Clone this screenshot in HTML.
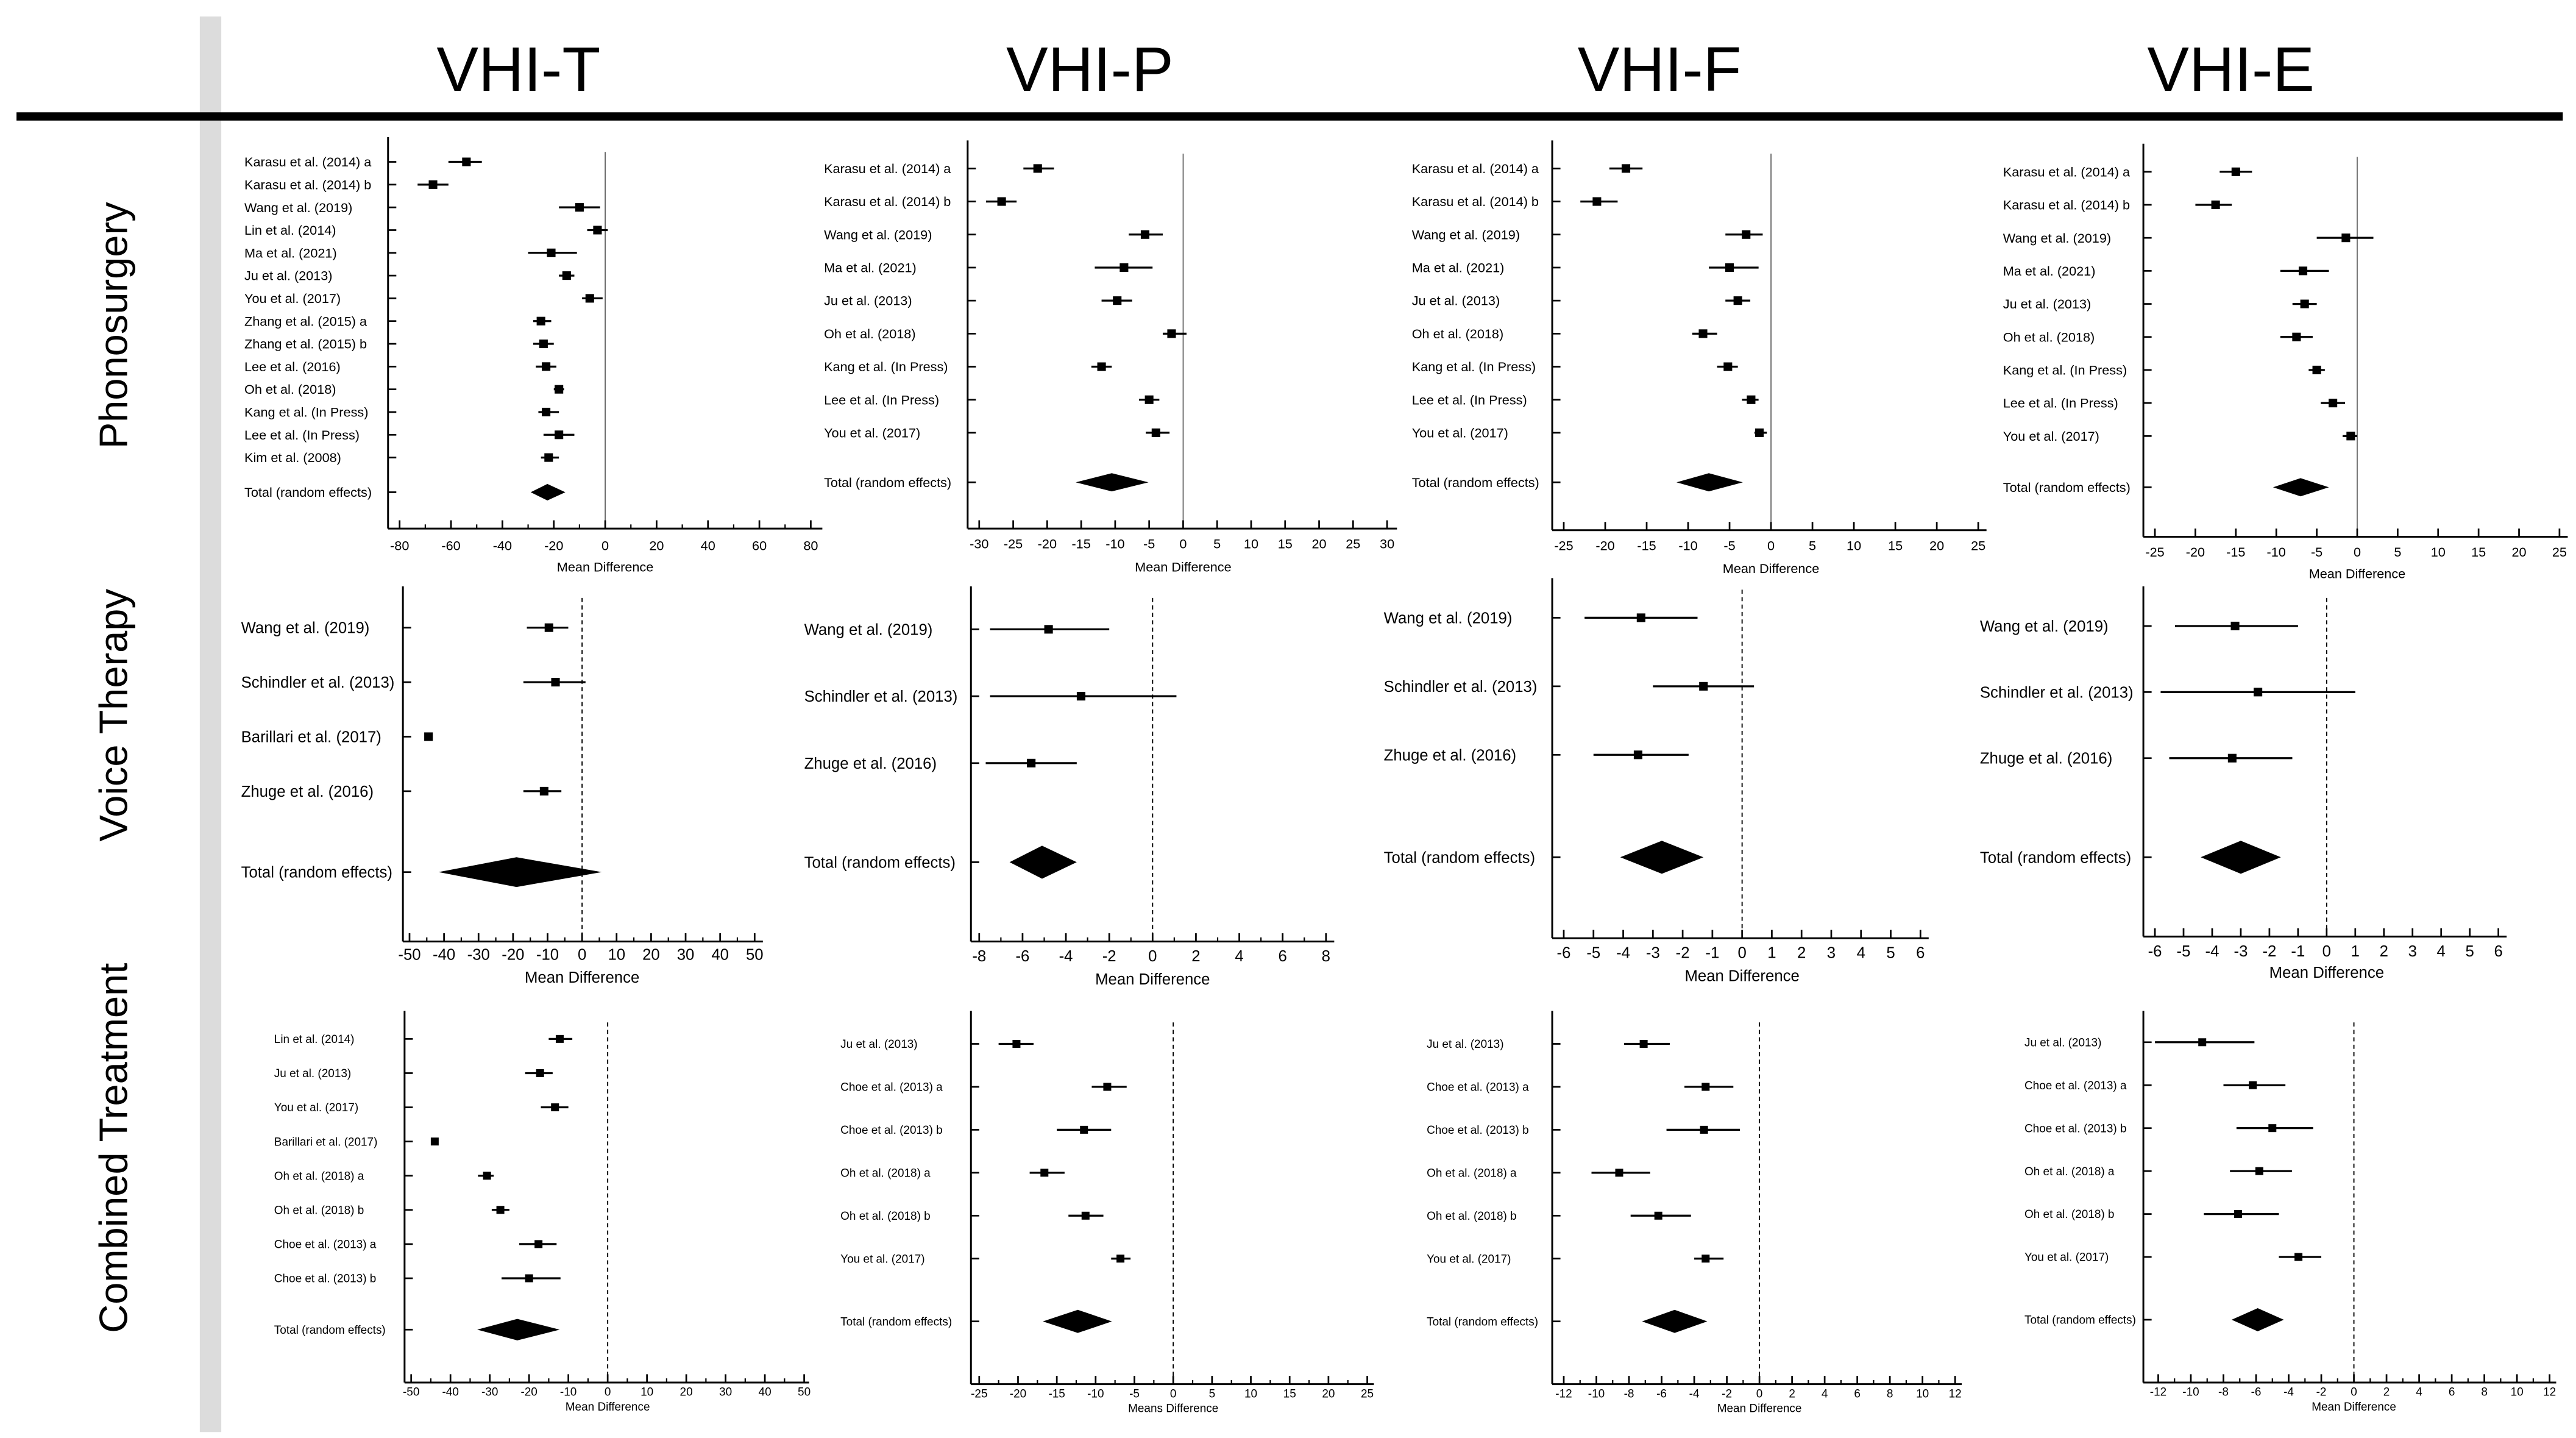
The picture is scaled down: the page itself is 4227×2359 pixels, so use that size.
<!DOCTYPE html>
<html><head><meta charset="utf-8"><style>
html,body{margin:0;padding:0;background:#fff;}
svg{display:block;}
text{font-family:"Liberation Sans",sans-serif;fill:#000;}
</style></head>
<body>
<svg id="fig" xmlns="http://www.w3.org/2000/svg" width="4227" height="2359" viewBox="0 0 1560 870.6" preserveAspectRatio="none">
<rect x="0" y="0" width="1560" height="871" fill="#fff"/>
<rect x="121" y="10" width="13" height="857" fill="#dcdcdc"/>
<rect x="10" y="68" width="1542" height="5" fill="#000"/>
<text x="314" y="55" font-size="38" text-anchor="middle">VHI-T</text>
<text x="660" y="55" font-size="38" text-anchor="middle">VHI-P</text>
<text x="1005" y="55" font-size="38" text-anchor="middle">VHI-F</text>
<text x="1351" y="55" font-size="38" text-anchor="middle">VHI-E</text>
<text transform="translate(77,197) rotate(-90)" font-size="24" text-anchor="middle">Phonosurgery</text>
<text transform="translate(77,433) rotate(-90)" font-size="24" text-anchor="middle">Voice Therapy</text>
<text transform="translate(77,695) rotate(-90)" font-size="24" text-anchor="middle">Combined Treatment</text>
<g id="plots"></g>
</svg>
<script>
// ===== Phonosurgery VHI-T =====
const phT_labels=["Karasu et al. (2014) a","Karasu et al. (2014) b","Wang et al. (2019)","Lin et al. (2014)","Ma et al. (2021)","Ju et al. (2013)","You et al. (2017)","Zhang et al. (2015) a","Zhang et al. (2015) b","Lee et al. (2016)","Oh et al. (2018)","Kang et al. (In Press)","Lee et al. (In Press)","Kim et al. (2008)"];
const phT_mean=[-54,-67,-10,-3,-21,-15,-6,-25,-24,-23,-18,-23,-18,-22];
const phT_lo=[-61,-73,-18,-7,-30,-18,-9,-28,-28,-27,-20,-26,-24,-25];
const phT_hi=[-48,-61,-2,1,-11,-12,-1,-21,-20,-19,-16,-18,-12,-18];
const phT_total=[-22.5,-29,-15.5];
const phT_ticks=[-80,-60,-40,-20,0,20,40,60,80];
// ===== Phonosurgery VHI-P =====
const phP_labels=["Karasu et al. (2014) a","Karasu et al. (2014) b","Wang et al. (2019)","Ma et al. (2021)","Ju et al. (2013)","Oh et al. (2018)","Kang et al. (In Press)","Lee et al. (In Press)","You et al. (2017)"];
const phP_mean=[-21.4,-26.7,-5.6,-8.7,-9.7,-1.7,-12,-5,-4];
const phP_lo=[-23.5,-29,-8,-13,-12,-3,-13.5,-6.5,-5.5];
const phP_hi=[-19,-24.5,-3,-4.5,-7.5,0.5,-10.5,-3.5,-2];
const phP_total=[-10.5,-15.8,-5.1];
const phP_ticks=[-30,-25,-20,-15,-10,-5,0,5,10,15,20,25,30];
// ===== Phonosurgery VHI-F =====
const phF_labels=["Karasu et al. (2014) a","Karasu et al. (2014) b","Wang et al. (2019)","Ma et al. (2021)","Ju et al. (2013)","Oh et al. (2018)","Kang et al. (In Press)","Lee et al. (In Press)","You et al. (2017)"];
const phF_mean=[-17.5,-21,-3,-5,-4,-8.2,-5.2,-2.4,-1.4];
const phF_lo=[-19.5,-23,-5.5,-7.5,-5.5,-9.5,-6.5,-3.5,-2];
const phF_hi=[-15.5,-18.5,-1,-1.5,-2.5,-6.5,-4,-1.5,-0.5];
const phF_total=[-7.5,-11.4,-3.4];
const phF_ticks=[-25,-20,-15,-10,-5,0,5,10,15,20,25];
// ===== Phonosurgery VHI-E =====
const phE_labels=["Karasu et al. (2014) a","Karasu et al. (2014) b","Wang et al. (2019)","Ma et al. (2021)","Ju et al. (2013)","Oh et al. (2018)","Kang et al. (In Press)","Lee et al. (In Press)","You et al. (2017)"];
const phE_mean=[-15,-17.5,-1.4,-6.7,-6.5,-7.5,-5,-3,-0.8];
const phE_lo=[-17,-20,-5,-9.5,-8,-9.5,-6,-4.5,-1.8];
const phE_hi=[-13,-15.5,2,-3.5,-5,-5.5,-4,-1.5,0];
const phE_total=[-7,-10.4,-3.5];
const phE_ticks=[-25,-20,-15,-10,-5,0,5,10,15,20,25];
// ===== Voice therapy VHI-T =====
const vtT_labels=["Wang et al. (2019)","Schindler et al. (2013)","Barillari et al. (2017)","Zhuge et al. (2016)"];
const vtT_mean=[-9.6,-7.7,-44.5,-11];
const vtT_lo=[-16,-17,-45,-17];
const vtT_hi=[-4,1,-44,-6];
const vtT_total=[-19,-41.6,5.7];
const vtT_ticks=[-50,-40,-30,-20,-10,0,10,20,30,40,50];
// ===== Voice therapy VHI-P =====
const vtP_labels=["Wang et al. (2019)","Schindler et al. (2013)","Zhuge et al. (2016)"];
const vtP_mean=[-4.8,-3.3,-5.6];
const vtP_lo=[-7.5,-7.5,-7.7];
const vtP_hi=[-2,1.1,-3.5];
const vtP_total=[-5.1,-6.6,-3.5];
const vtP_ticks=[-8,-6,-4,-2,0,2,4,6,8];
// ===== Voice therapy VHI-F =====
const vtF_labels=["Wang et al. (2019)","Schindler et al. (2013)","Zhuge et al. (2016)"];
const vtF_mean=[-3.4,-1.3,-3.5];
const vtF_lo=[-5.3,-3,-5];
const vtF_hi=[-1.5,0.4,-1.8];
const vtF_total=[-2.7,-4.1,-1.3];
const vtF_ticks=[-6,-5,-4,-3,-2,-1,0,1,2,3,4,5,6];
// ===== Voice therapy VHI-E =====
const vtE_labels=["Wang et al. (2019)","Schindler et al. (2013)","Zhuge et al. (2016)"];
const vtE_mean=[-3.2,-2.4,-3.3];
const vtE_lo=[-5.3,-5.8,-5.5];
const vtE_hi=[-1,1,-1.2];
const vtE_total=[-3,-4.4,-1.6];
const vtE_ticks=[-6,-5,-4,-3,-2,-1,0,1,2,3,4,5,6];
// ===== Combined VHI-T =====
const ctT_labels=["Lin et al. (2014)","Ju et al. (2013)","You et al. (2017)","Barillari et al. (2017)","Oh et al. (2018) a","Oh et al. (2018) b","Choe et al. (2013) a","Choe et al. (2013) b"];
const ctT_mean=[-12.2,-17.2,-13.4,-44,-30.7,-27.3,-17.6,-20];
const ctT_lo=[-15,-21,-17,-44.5,-33,-29.5,-22.5,-27];
const ctT_hi=[-9,-14,-10,-43.5,-29,-25,-13,-12];
const ctT_total=[-23,-33.2,-12.2];
const ctT_ticks=[-50,-40,-30,-20,-10,0,10,20,30,40,50];
// ===== Combined VHI-P =====
const ctP_labels=["Ju et al. (2013)","Choe et al. (2013) a","Choe et al. (2013) b","Oh et al. (2018) a","Oh et al. (2018) b","You et al. (2017)"];
const ctP_mean=[-20.2,-8.5,-11.5,-16.6,-11.3,-6.8];
const ctP_lo=[-22.5,-10.5,-15,-18.5,-13.5,-8];
const ctP_hi=[-18,-6,-8,-14,-9,-5.5];
const ctP_total=[-12.3,-16.8,-7.9];
const ctP_ticks=[-25,-20,-15,-10,-5,0,5,10,15,20,25];
// ===== Combined VHI-F =====
const ctF_labels=["Ju et al. (2013)","Choe et al. (2013) a","Choe et al. (2013) b","Oh et al. (2018) a","Oh et al. (2018) b","You et al. (2017)"];
const ctF_mean=[-7.1,-3.3,-3.4,-8.6,-6.2,-3.3];
const ctF_lo=[-8.3,-4.6,-5.7,-10.3,-7.9,-4];
const ctF_hi=[-5.5,-1.6,-1.2,-6.7,-4.2,-2.2];
const ctF_total=[-5.2,-7.2,-3.2];
const ctF_ticks=[-12,-10,-8,-6,-4,-2,0,2,4,6,8,10,12];
// ===== Combined VHI-E =====
const ctE_labels=["Ju et al. (2013)","Choe et al. (2013) a","Choe et al. (2013) b","Oh et al. (2018) a","Oh et al. (2018) b","You et al. (2017)"];
const ctE_mean=[-9.3,-6.2,-5,-5.8,-7.1,-3.4];
const ctE_lo=[-12.2,-8,-7.2,-7.6,-9.2,-4.6];
const ctE_hi=[-6.1,-4.2,-2.5,-3.8,-4.6,-2];
const ctE_total=[-5.9,-7.5,-4.3];
const ctE_ticks=[-12,-10,-8,-6,-4,-2,0,2,4,6,8,10,12];

const NS="http://www.w3.org/2000/svg";
const root=document.getElementById('plots');
function mk(tag,attrs,parent){const e=document.createElementNS(NS,tag);for(const k in attrs)e.setAttribute(k,attrs[k]);parent.appendChild(e);return e;}

const panels=[
 {id:'phono-vhi-t',L:phT_labels,M:phT_mean,LO:phT_lo,HI:phT_hi,T:phT_total,ticks:phT_ticks,ax0:235,ax1:498,top:83,bot:320,p0:242,p1:491,row0:98,step:13.77,ty:298,lx:148,fs:8,tfs:8,tly:333,mdy:346,md:'Mean Difference',dash:false,dh:5,sq:2.6,minor:true,zt:92},
 {id:'phono-vhi-p',L:phP_labels,M:phP_mean,LO:phP_lo,HI:phP_hi,T:phP_total,ticks:phP_ticks,ax0:586,ax1:846,top:85,bot:320,p0:593,p1:840,row0:102,step:20,ty:292,lx:499,fs:8,tfs:8,tly:332,mdy:346,md:'Mean Difference',dash:false,dh:5.5,sq:2.6,minor:false,zt:93},
 {id:'phono-vhi-f',L:phF_labels,M:phF_mean,LO:phF_lo,HI:phF_hi,T:phF_total,ticks:phF_ticks,ax0:940,ax1:1203,top:85,bot:321,p0:947,p1:1198,row0:102,step:20,ty:292,lx:855,fs:8,tfs:8,tly:333,mdy:347,md:'Mean Difference',dash:false,dh:5.5,sq:2.6,minor:false,zt:93},
 {id:'phono-vhi-e',L:phE_labels,M:phE_mean,LO:phE_lo,HI:phE_hi,T:phE_total,ticks:phE_ticks,ax0:1298,ax1:1555,top:87,bot:325,p0:1305,p1:1550,row0:104,step:20,ty:295,lx:1213,fs:8,tfs:8,tly:337,mdy:350,md:'Mean Difference',dash:false,dh:5.5,sq:2.6,minor:false,zt:95},
 {id:'voice-vhi-t',L:vtT_labels,M:vtT_mean,LO:vtT_lo,HI:vtT_hi,T:vtT_total,ticks:vtT_ticks,ax0:244,ax1:462,top:355,bot:570,p0:248,p1:457,row0:380,step:33,ty:528,lx:146,fs:9.5,tfs:9.5,tly:581,mdy:595,md:'Mean Difference',dash:true,dh:9,sq:2.6,minor:true,zt:362},
 {id:'voice-vhi-p',L:vtP_labels,M:vtP_mean,LO:vtP_lo,HI:vtP_hi,T:vtP_total,ticks:vtP_ticks,ax0:588,ax1:808,top:355,bot:570,p0:593,p1:803,row0:381,step:40.5,ty:522,lx:487,fs:9.5,tfs:9.5,tly:582,mdy:596,md:'Mean Difference',dash:true,dh:10,sq:2.6,minor:true,zt:362},
 {id:'voice-vhi-f',L:vtF_labels,M:vtF_mean,LO:vtF_lo,HI:vtF_hi,T:vtF_total,ticks:vtF_ticks,ax0:940,ax1:1168,top:350,bot:568,p0:947,p1:1163,row0:374,step:41.5,ty:519,lx:838,fs:9.5,tfs:9.5,tly:580,mdy:594,md:'Mean Difference',dash:true,dh:10,sq:2.6,minor:false,zt:357},
 {id:'voice-vhi-e',L:vtE_labels,M:vtE_mean,LO:vtE_lo,HI:vtE_hi,T:vtE_total,ticks:vtE_ticks,ax0:1298,ax1:1518,top:355,bot:567,p0:1305,p1:1513,row0:379,step:40,ty:519,lx:1199,fs:9.5,tfs:9.5,tly:579,mdy:592,md:'Mean Difference',dash:true,dh:10,sq:2.6,minor:false,zt:362},
 {id:'combined-vhi-t',L:ctT_labels,M:ctT_mean,LO:ctT_lo,HI:ctT_hi,T:ctT_total,ticks:ctT_ticks,ax0:245,ax1:490,top:612,bot:837,p0:249,p1:487,row0:629,step:20.7,ty:805,lx:166,fs:7,tfs:7,tly:845,mdy:854,md:'Mean Difference',dash:true,dh:6.5,sq:2.4,minor:true,zt:619},
 {id:'combined-vhi-p',L:ctP_labels,M:ctP_mean,LO:ctP_lo,HI:ctP_hi,T:ctP_total,ticks:ctP_ticks,ax0:588,ax1:832,top:612,bot:838,p0:593,p1:828,row0:632,step:26,ty:800,lx:509,fs:7,tfs:7,tly:846,mdy:855,md:'Means Difference',dash:true,dh:7,sq:2.4,minor:true,zt:619},
 {id:'combined-vhi-f',L:ctF_labels,M:ctF_mean,LO:ctF_lo,HI:ctF_hi,T:ctF_total,ticks:ctF_ticks,ax0:940,ax1:1188,top:612,bot:838,p0:947,p1:1184,row0:632,step:26,ty:800,lx:864,fs:7,tfs:7,tly:846,mdy:855,md:'Mean Difference',dash:true,dh:7,sq:2.4,minor:true,zt:619},
 {id:'combined-vhi-e',L:ctE_labels,M:ctE_mean,LO:ctE_lo,HI:ctE_hi,T:ctE_total,ticks:ctE_ticks,ax0:1298,ax1:1548,top:612,bot:837,p0:1307,p1:1544,row0:631,step:26,ty:799,lx:1226,fs:7,tfs:7,tly:845,mdy:854,md:'Mean Difference',dash:true,dh:7,sq:2.4,minor:true,zt:619}
];

panels.forEach(p=>{
  const g=mk('g',{},root);
  
  
  const tk=p.ticks, xmin=tk[0], xmax=tk[tk.length-1];
  const xs=v=>p.p0+(v-xmin)/(xmax-xmin)*(p.p1-p.p0);
  const ya=mk('line',{x1:p.ax0,y1:p.top,x2:p.ax0,y2:p.bot,stroke:'#000','stroke-width':1.1},g);
  
  
  const xa=mk('line',{x1:p.ax0,y1:p.bot,x2:p.ax1,y2:p.bot,stroke:'#000','stroke-width':1.1},g);
  
  
  const z=mk('line',{x1:xs(0),y1:p.zt,x2:xs(0),y2:p.bot,stroke:p.dash?'#000':'#555','stroke-width':p.dash?0.7:0.6},g);
  if(p.dash) z.setAttribute('stroke-dasharray','2.5,2');
  
  
  tk.forEach((v,i)=>{
    mk('line',{x1:xs(v),y1:p.bot,x2:xs(v),y2:p.bot-5,stroke:'#000','stroke-width':1},g);
    if(p.minor && i<tk.length-1){const m=(v+tk[i+1])/2;mk('line',{x1:xs(m),y1:p.bot,x2:xs(m),y2:p.bot-2.5,stroke:'#000','stroke-width':0.8},g);}
    const t=mk('text',{x:xs(v),y:p.tly,'font-size':p.tfs,'text-anchor':'middle'},g);
    t.textContent=String(v);
    
    
  });
  const md=mk('text',{x:(p.p0+p.p1)/2,y:p.mdy,'font-size':p.tfs,'text-anchor':'middle'},g);
  md.textContent=p.md;
  
  
  p.L.forEach((lab,i)=>{
    const y=p.row0+i*p.step;
    mk('line',{x1:p.ax0,y1:y,x2:p.ax0+5,y2:y,stroke:'#000','stroke-width':1},g);
    const t=mk('text',{x:p.lx,y:y+p.fs*0.35,'font-size':p.fs},g);
    t.textContent=lab;
    
    
    const ci=mk('line',{x1:xs(p.LO[i]),y1:y,x2:xs(p.HI[i]),y2:y,stroke:'#000','stroke-width':1.2},g);
    
    
    const s=mk('rect',{x:xs(p.M[i])-p.sq,y:y-p.sq,width:p.sq*2,height:p.sq*2,fill:'#000'},g);
    
    
  });
  const ty=p.ty;
  mk('line',{x1:p.ax0,y1:ty,x2:p.ax0+5,y2:ty,stroke:'#000','stroke-width':1},g);
  const tt=mk('text',{x:p.lx,y:ty+p.fs*0.35,'font-size':p.fs},g);
  tt.textContent='Total (random effects)';
  
  
  const c=xs(p.T[0]),a=xs(p.T[1]),b=xs(p.T[2]);
  const d=mk('polygon',{points:`${a},${ty} ${c},${ty-p.dh} ${b},${ty} ${c},${ty+p.dh}`,fill:'#000'},g);
  
  
});
</script>
</body></html>
